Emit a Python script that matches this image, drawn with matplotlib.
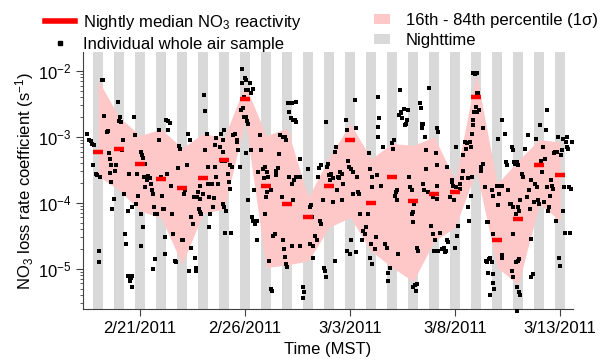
import numpy as np
import matplotlib
matplotlib.use('Agg')
import matplotlib.pyplot as plt
import matplotlib.dates as mdates
from matplotlib.lines import Line2D
from matplotlib.patches import Patch
from matplotlib.ticker import FixedLocator, FuncFormatter, LogLocator
from datetime import datetime

plt.rcParams['font.family'] = ['Liberation Sans', 'DejaVu Sans']
plt.rcParams['mathtext.fontset'] = 'custom'
plt.rcParams['mathtext.rm'] = 'Liberation Sans'
plt.rcParams['mathtext.it'] = 'Liberation Sans:italic'
FS = 12
plt.rcParams['font.size'] = FS

# time axis: days after 2011-02-21 00:00 MST
t0 = mdates.date2num(datetime(2011, 2, 21))

# nightly statistics, one entry per night (centred on local midnight)
night_mid = np.arange(-2, 21)
median_k = [6.0e-4, 6.6e-4, 3.9e-4, 2.3e-4, 1.7e-4, 2.35e-4, 4.5e-4, 3.7e-3,
            1.78e-4, 9.5e-5, 6.2e-5, 1.78e-4, 9.1e-4, 9.8e-5, 2.45e-4, 1.05e-4,
            1.38e-4, 1.45e-4, 4.0e-3, 2.75e-5, 5.6e-5, 3.8e-4, 2.6e-4]
p84_log = [-2.14, -2.70, -2.98, -2.88, -3.17, -2.95, -3.01, -2.21, -2.98, -2.87,
           -3.92, -3.31, -2.80, -3.33, -3.10, -3.13, -3.00, -3.66, -2.04, -3.71,
           -3.36, -3.04, -3.08]
p16_log = [-3.59, -3.81, -4.12, -4.23, -4.93, -4.16, -4.09, -2.75, -4.98, -4.94,
           -4.88, -4.37, -4.22, -4.73, -4.98, -5.19, -4.58, -4.37, -3.51, -4.98,
           -5.24, -4.02, -4.27]

# individual whole air samples
sample_t = [
    -2.52, -2.43, -2.35, -2.27, -2.19, -2.24, -2.11, -2.05, -1.92, -1.95, -1.97, -1.81,
    -1.75, -1.71, -1.60, -1.52, -1.49, -1.44, -1.40, -1.44, -1.37, -1.33, -1.25, -1.21,
    -1.13, -1.05, -0.97, -1.00, -0.89, -0.81, -0.86, -0.78, -0.73, -0.65, -0.57, -0.54,
    -0.41, -0.30, -0.25, -0.21, -0.17, -0.10, -0.57, -0.49, -0.44, -0.46, -0.41, -0.37,
    0.03, 0.11, 0.14, 0.22, 0.25, 0.19, 0.06, 0.14, 0.06, 0.33, 0.38, 0.46, 0.49, 0.54,
    0.57, 0.62, 0.67, 0.70, 0.78, 0.70, 0.62,
    0.90, 0.89, 0.97, 1.02, 1.10, 1.14, 1.17, 1.17, 1.25, 1.33, 1.41, 1.33, 1.29, 1.46,
    1.54, 1.57, 1.65, 1.73, 1.81, 1.86, 1.92, 1.97, 2.05, 2.08, 2.13, 2.21, 2.29, 2.37,
    2.40, 2.44, 2.52, 2.57, 2.60, 2.65, 2.68, 2.32, 2.71, 2.76, 2.84, 2.81, 2.87, 2.92,
    2.84, 3.00,
    3.03, 3.11, 3.16, 3.08, 3.24, 3.21, 3.29, 3.32, 3.29, 3.40, 3.48, 3.52, 3.56, 3.56,
    3.60, 3.63, 3.71, 3.79, 3.87, 3.95, 3.90, 3.95, 3.98, 4.03, 3.95, 4.00, 4.06, 4.11,
    4.16, 4.22, 4.27, 4.30, 4.32, 4.38, 4.43, 4.51, 4.59, 4.63, 4.67, 4.75,
    4.79, 4.86, 4.90, 4.94, 4.83, 4.98, 5.06, 5.06, 5.14, 5.22, 5.30, 5.35, 4.95, 5.02,
    5.10, 5.14, 5.06, 5.14, 5.30, 5.43, 5.33, 5.38, 5.46, 5.54, 5.62, 5.54,
    5.70, 5.75, 5.83, 5.94, 5.89, 6.02, 6.10, 6.05, 6.21, 5.98, 5.94, 6.14, 6.21, 6.30,
    6.33, 6.41, 6.46, 6.49, 6.57, 6.62, 6.68, 6.78, 6.73, 6.81, 6.84, 6.89, 6.94, 7.00,
    6.89, 6.94, 7.05, 7.10, 7.16, 7.21, 7.29, 7.37, 7.41, 7.44, 7.10, 7.21, 7.29, 7.44,
    7.25, 7.32, 7.60, 7.63, 7.60, 7.73, 7.76, 7.79, 8.00, 8.08, 8.13, 8.16, 8.08, 8.21,
    8.24, 8.32, 8.40, 8.48, 8.52, 8.59, 8.56, 8.60, 8.71, 8.75, 8.79, 8.84, 8.87, 8.90,
    8.95, 9.00, 9.03, 9.11, 9.19, 9.19, 9.27, 9.32, 9.27, 9.38, 9.43, 9.48, 9.51, 9.59,
    9.59, 9.67, 9.79, 9.86, 9.90, 9.95, 10.06, 10.14, 10.14, 10.22, 10.30, 10.33, 10.38,
    10.43, 10.46, 9.83, 9.98, 10.06, 10.30, 10.54, 10.62, 10.70, 10.75, 10.86, 10.90,
    10.94, 11.02, 11.06, 10.97, 10.94, 11.02, 11.17, 11.25, 11.29, 11.32, 11.33, 11.38,
    11.33, 11.49, 11.57, 11.65, 11.73, 11.78, 11.81, 11.89, 11.97, 12.05, 12.08, 12.13,
    12.17, 12.21, 12.24, 12.29, 12.37, 12.33, 12.40, 12.44, 12.49, 12.56, 12.62, 12.65,
    12.71, 12.76, 12.81, 12.84, 12.92, 12.92, 13.00, 13.03, 13.00, 13.00, 13.08, 13.11,
    13.16, 13.19, 13.24, 13.32, 13.35, 13.40, 13.44, 13.48, 13.48, 13.52, 13.56, 13.60,
    13.63, 13.71, 13.76,
    14.11, 14.19, 14.08, 14.11, 14.14, 14.11, 13.95, 13.87, 13.92, 14.03, 13.98, 14.19,
    14.27, 14.35, 14.46, 14.51, 14.56, 14.59, 14.67, 14.59, 14.75, 14.83, 14.87, 14.90,
    14.94, 15.03, 14.98, 15.06, 15.10, 15.14, 15.22, 15.25, 15.30, 15.38, 15.38, 15.46,
    15.51, 15.57, 15.62, 15.67, 15.62, 15.70, 15.73, 15.76, 15.78, 15.81, 15.83, 15.83,
    15.86, 15.94, 16.02, 15.90, 15.98, 16.05, 16.14, 16.10, 16.02, 16.21, 16.25, 16.33,
    16.30, 16.41, 16.49, 16.57, 16.46, 16.52, 16.62, 16.65, 16.73, 16.57, 16.78, 16.81,
    16.86, 16.65, 16.73, 16.81, 16.81, 16.97, 17.05, 17.10, 17.13, 17.21, 17.25, 17.21,
    17.05, 17.25, 17.37, 17.44, 17.48, 17.52, 17.60, 17.65, 17.73, 17.68, 17.76, 17.79,
    17.84, 17.89, 17.95, 18.00, 18.00, 18.05, 18.08, 17.76, 17.89, 17.89, 18.00, 18.05,
    17.68, 17.76, 17.95, 18.05, 18.08, 17.95, 18.16, 18.24, 18.32, 18.40, 18.48, 18.52,
    18.56, 18.63, 18.63, 18.71, 18.63, 18.75, 18.79, 18.84, 18.90, 18.95, 19.00, 19.03,
    19.06, 19.11, 19.19, 19.22, 19.27, 19.32, 19.35, 19.38, 19.43, 19.48, 19.51, 19.54,
    19.59, 19.67, 19.70, 19.75, 19.79, 19.83, 19.90, 19.95, 19.98, 20.02, 20.06, 20.11,
    20.14, 20.19, 20.22, 20.27, 20.30, 20.33, 20.38, 20.43, 20.46, 20.54, 20.49,
]
sample_log_k = [
    -2.96, -3.05, -3.07, -3.11, -3.13, -3.42, -3.56, -3.58, -3.61, -4.73, -4.90, -2.14,
    -2.14, -2.69, -2.92, -2.91, -3.25, -3.33, -3.42, -3.55, -3.69, -4.09, -3.94, -3.51,
    -3.42, -2.47, -2.70, -2.76, -2.77, -3.05, -3.20, -3.87, -4.47, -4.62, -4.12, -3.56,
    -4.07, -2.70, -2.97, -4.02, -3.56, -3.89, -5.11, -5.12, -5.14, -5.18, -5.28, -5.11,
    -3.23, -3.27, -3.32, -3.41, -3.76, -3.61, -4.17, -4.37, -4.65, -3.66, -3.60, -3.62,
    -3.63, -3.72, -3.81, -3.87, -4.07, -4.17, -4.17, -4.85, -5.00,
    -2.90, -3.05, -3.61, -3.89, -4.09, -4.09, -4.52, -4.78, -2.74, -2.76, -2.79, -2.90,
    -3.56, -3.74, -4.17, -4.47, -4.88, -4.90, -3.47, -3.14, -3.18, -4.57, -4.57, -3.86,
    -3.81, -3.43, -2.95, -3.04, -4.22, -4.68, -4.32, -3.91, -4.83, -4.98, -5.03, -5.03,
    -3.91, -3.83, -3.75, -4.09, -4.14, -4.17, -3.94, -3.86,
    -2.37, -2.61, -2.95, -3.20, -3.71, -3.46, -3.91, -4.17, -4.36, -3.71, -4.07, -3.92,
    -3.46, -3.13, -3.02, -3.61, -3.71, -3.15, -2.95, -3.23, -3.36, -3.04, -2.90, -3.36,
    -4.02, -4.07, -4.46, -4.12, -3.56, -3.69, -3.43, -3.79, -4.46, -3.45, -2.97, -2.96,
    -3.08, -3.05, -3.20, -3.46,
    -2.59, -2.19, -2.57, -2.70, -1.97, -2.11, -2.14, -2.29, -2.29, -2.19, -2.33, -2.28,
    -2.40, -2.70, -2.76, -2.80, -3.25, -3.96, -3.20, -3.81, -4.22, -4.27, -4.32, -4.27,
    -3.53, -4.57,
    -2.97, -3.20, -3.48, -3.46, -3.63, -3.53, -3.61, -3.84, -3.81, -3.91, -4.17, -4.88,
    -5.31, -5.34, -4.50, -4.47, -3.51, -3.58, -3.47, -3.26, -2.97, -3.00, -3.91, -4.57,
    -4.70, -4.82, -4.93, -4.97, -3.00, -3.05, -2.49, -2.62, -2.72, -2.49, -2.74, -2.75,
    -2.47, -2.77, -3.61, -3.71, -3.96, -3.61, -4.65, -3.66, -3.33, -3.61, -4.65, -5.28,
    -5.44, -5.35, -3.48, -4.07, -4.04, -4.22, -4.62, -4.65, -4.83, -4.50, -4.57, -3.61,
    -3.47, -3.43, -4.27, -4.32, -3.96, -4.98, -5.03, -5.13, -2.77, -3.46, -3.41, -3.58,
    -3.66, -3.56, -3.63, -3.99, -3.23, -3.15, -4.88, -3.81, -3.61, -3.63, -3.53, -3.56,
    -3.96, -3.71, -2.75, -2.90, -3.36, -3.46, -3.48, -3.53, -3.86, -2.44, -2.87, -3.61,
    -3.84, -3.86, -4.17, -4.73, -4.78, -4.57, -4.74, -4.57, -4.42, -4.47, -4.37, -4.17,
    -3.25, -3.48, -3.61, -3.76, -4.62, -4.83, -4.93, -4.70, -4.52, -3.58, -3.00, -2.85,
    -2.72, -2.40, -3.75, -3.15, -4.62, -4.68, -5.06, -5.18, -4.98, -3.10, -3.18, -3.05,
    -3.89, -3.84, -3.81, -3.96, -4.78, -2.29, -2.67, -2.64, -2.62, -2.71, -2.58, -2.82,
    -2.80, -2.75, -2.60, -3.61, -3.76, -3.81, -4.17, -4.14, -4.02, -4.29, -5.28, -5.24,
    -5.34, -5.23, -4.68, -4.73, -2.49, -2.57, -2.80, -2.87, -2.80, -3.71, -3.81, -3.00,
    -3.20, -3.48, -3.84, -2.26,
    -2.87, -2.92, -3.25, -3.43, -3.74, -3.94, -3.91, -4.35, -4.47, -4.57, -4.73, -4.73,
    -4.45, -4.70, -4.68, -4.75, -4.73, -4.57, -4.60, -3.46, -3.91, -3.69, -3.66, -3.74,
    -3.96, -3.76, -4.68, -3.15, -4.50, -4.35, -3.71, -3.79, -3.63, -3.28, -3.51, -3.08,
    -3.18, -3.10, -4.07, -4.27, -3.63, -3.08, -3.15, -3.89, -3.61, -2.95, -2.82, -2.75,
    -2.03, -2.04, -2.03, -2.62, -2.54, -2.62, -2.59, -2.34, -2.34, -3.46, -3.51, -3.41,
    -2.86, -3.76, -4.29, -4.29, -4.88, -4.90, -4.85, -4.83, -4.90, -5.07, -5.08, -5.21,
    -5.31, -5.39, -3.81, -3.89, -4.47, -3.75, -4.04, -3.86, -3.74, -4.83, -4.79, -3.74,
    -3.03, -2.75, -2.95, -3.38, -3.43, -3.81, -4.01, -4.02, -4.07, -3.15, -3.20, -3.38,
    -3.41, -3.38, -3.38, -3.43, -4.07, -4.12, -3.96, -4.47, -4.17, -4.90, -4.88, -4.85,
    -5.03, -5.13, -5.28, -5.35, -5.39, -5.64, -3.56, -3.61, -3.18, -3.91, -2.97, -3.81,
    -4.09, -3.66, -4.55, -5.08, -5.13, -3.99, -3.71, -3.03, -3.76, -3.96, -4.01, -2.82,
    -3.36, -3.53, -3.15, -3.99, -3.33, -2.90, -2.59, -3.76, -4.12, -4.07, -3.89, -3.66,
    -3.74, -3.79, -3.25, -3.23, -4.27, -3.23, -3.00, -4.83, -4.95, -3.28, -3.20, -4.12,
    -3.03, -3.76, -4.45, -3.08, -3.00, -3.15, -3.18, -3.76, -4.45, -3.08, -3.79,
]

tick_days = [0, 5, 10, 15, 20]

fig = plt.figure(figsize=(6.03, 3.62), dpi=100)
ax = fig.add_axes([0.138, 0.146, 0.812, 0.709])

# nighttime shading (roughly 18:00 - 05:30 MST)
for m in night_mid:
    ax.axvspan(t0 + m - 0.25, t0 + m + 0.22, color='#d9d9d9', lw=0, zorder=0)

# 16th-84th percentile envelope
ax.fill_between(t0 + night_mid, 10 ** np.array(p16_log), 10 ** np.array(p84_log),
                color='#ffc8c8', lw=0, zorder=1)

ax.scatter(t0 + np.array(sample_t), 10 ** np.array(sample_log_k), marker='s', s=10,
           c='k', lw=0, zorder=3, clip_on=False)

ax.hlines(median_k, t0 + night_mid - 0.25, t0 + night_mid + 0.22, color='red',
          lw=3.2, zorder=4)

ax.set_yscale('log')
ax.set_ylim(2.45e-6, 1.9e-2)
ax.set_xlim(t0 - 2.71, t0 + 20.6)

ax.xaxis.set_major_locator(FixedLocator([t0 + d for d in tick_days]))
ax.xaxis.set_major_formatter(FuncFormatter(
    lambda x, pos: '{0}/{1}/{2}'.format(mdates.num2date(x).month,
                                        mdates.num2date(x).day,
                                        mdates.num2date(x).year)))
ax.yaxis.set_major_locator(LogLocator(base=10, numticks=10))
ax.yaxis.set_minor_locator(LogLocator(base=10, subs=np.arange(2, 10), numticks=10))

for s in ['top', 'right']:
    ax.spines[s].set_visible(False)
for s in ['left', 'bottom']:
    ax.spines[s].set_color('#404040')
    ax.spines[s].set_linewidth(0.8)

ax.tick_params(axis='y', which='major', length=5, width=0.8, color='#404040', labelsize=FS)
ax.tick_params(axis='y', which='minor', length=2.5, width=0.6, color='#404040')
ax.tick_params(axis='x', which='major', length=5, width=0.8, color='#404040', labelsize=FS)

ax.set_xlabel('Time (MST)', fontsize=FS, labelpad=4)
ax.set_ylabel('NO$_3$ loss rate coefficient (s$^{-1}$)', fontsize=FS, labelpad=1)

# legend, two columns above the plot
h_left = [Line2D([], [], color='red', lw=4),
          Line2D([], [], color='k', marker='s', ms=3, ls='none')]
leg1 = fig.legend(h_left, ['Nightly median NO$_3$ reactivity', 'Individual whole air sample'],
                  loc='upper left', bbox_to_anchor=(0.0746, 0.965), frameon=False,
                  borderpad=0, borderaxespad=0, handlelength=1.8, handletextpad=0.48,
                  labelspacing=0.32, fontsize=FS)
h_right = [Patch(color='#ffc8c8', lw=0), Patch(color='#d9d9d9', lw=0)]
leg2 = fig.legend(h_right, ['16th - 84th percentile (1σ)', 'Nighttime'],
                  loc='upper left', bbox_to_anchor=(0.620, 0.965), frameon=False,
                  borderpad=0, borderaxespad=0, handlelength=0.96, handleheight=0.6,
                  handletextpad=0.96, labelspacing=0.32, fontsize=FS)

fig.savefig('out.png', dpi=100)
